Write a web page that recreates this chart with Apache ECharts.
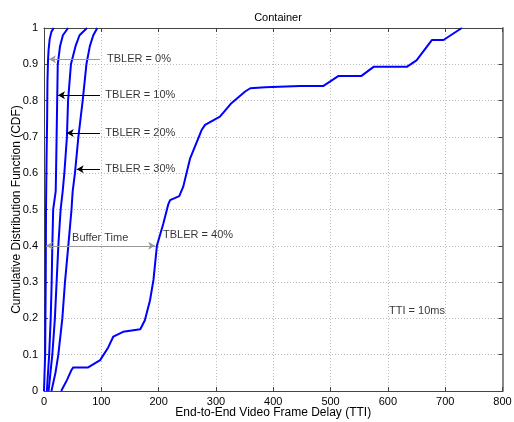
<!DOCTYPE html>
<html>
<head>
<meta charset="utf-8">
<script src="https://cdn.jsdelivr.net/npm/echarts@6/dist/echarts.min.js"></script>
<style>html,body{margin:0;padding:0;background:#fff}#c{width:514px;height:422px}</style>
</head>
<body>
<div id="c"></div>
<script>
// ---- data ----
const xTicks = [0,100,200,300,400,500,600,700,800];
const yTicks = [0,0.1,0.2,0.3,0.4,0.5,0.6,0.7,0.8,0.9,1];

const delay0 = [0, 2, 3, 3.5, 4.5, 5.5, 6, 7, 8, 10, 13, 17];
const cdf0   = [0, 0.1, 0.3, 0.5, 0.65, 0.75, 0.85, 0.91, 0.94, 0.97, 0.99, 1.0];

const delay10 = [5, 9, 11.7, 13.4, 14.5, 16, 20.4, 21, 22, 23, 24, 28, 33, 42];
const cdf10   = [0, 0.1, 0.2, 0.3, 0.4, 0.5, 0.55, 0.6, 0.7, 0.8, 0.9, 0.95, 0.98, 1.0];

const delay20 = [8, 14.5, 19, 22, 25, 29, 32.6, 35.5, 40, 42, 47, 55, 62, 75];
const cdf20   = [0, 0.1, 0.2, 0.3, 0.4, 0.5, 0.55, 0.6, 0.7, 0.8, 0.9, 0.95, 0.98, 1.0];

const delay30 = [13, 20, 25, 32, 36.6, 42.4, 48, 50, 54, 60, 67.5, 74, 80, 86, 93];
const cdf30   = [0, 0.05, 0.1, 0.2, 0.3, 0.4, 0.5, 0.55, 0.6, 0.7, 0.8, 0.9, 0.95, 0.98, 1.0];

const delay40 = [30, 40, 48, 51, 77, 98, 112, 121, 138, 168, 176, 185, 191, 197, 208, 217, 220, 236, 243, 255, 275, 281, 307, 327, 351, 360, 386, 389, 447, 487, 514, 554, 575, 633, 650, 677, 697, 729];
const cdf40   = [0, 0.03, 0.058, 0.065, 0.065, 0.085, 0.12, 0.15, 0.163, 0.17, 0.195, 0.25, 0.306, 0.4, 0.46, 0.515, 0.526, 0.537, 0.563, 0.641, 0.719, 0.733, 0.756, 0.793, 0.825, 0.834, 0.837, 0.84, 0.84, 0.84, 0.868, 0.868, 0.893, 0.893, 0.911, 0.967, 0.967, 1.0];

const seriesNames = ['TBLER = 0%','TBLER = 10%','TBLER = 20%','TBLER = 30%','TBLER = 40%'];

// annotation arrows: [fromX, toX, y]
const arrowFromX = [97.7, 97.7, 97.7, 97.7];
const arrowToX   = [8.7, 24.4, 39.6, 57];
const arrowY     = [0.914, 0.815, 0.711, 0.611];
const bufferArrow = [3.5, 194, 0.4];

const labelTexts = ['TBLER = 0%','TBLER = 10%','TBLER = 20%','TBLER = 30%','Buffer Time','TBLER = 40%','TTI = 10ms'];
const labelX = [110, 107, 107, 107, 49, 207.7, 602];
const labelY = [0.914, 0.815, 0.711, 0.611, 0.421, 0.43, 0.22];

// ---- build ----
const zip = (a,b) => a.map((v,i)=>[v,b[i]]);
const curves = [[delay0,cdf0],[delay10,cdf10],[delay20,cdf20],[delay30,cdf30],[delay40,cdf40]];
const FONT = 'Liberation Sans, Arial, sans-serif';

const series = curves.map((c,i)=>({
  name: seriesNames[i], type:'line', data: zip(c[0],c[1]),
  showSymbol:false, smooth:false, lineStyle:{color:'#0000ff', width:2}, itemStyle:{color:'#0000ff'},
  z: 3, silent:true
}));

const arrowLines = arrowFromX.map((fx,i)=>[
  {coord:[fx, arrowY[i]], lineStyle:{color: i===0 ? '#999' : '#000', width:1, type:'solid'}},
  {coord:[arrowToX[i], arrowY[i]]}
]);
arrowLines.push([
  {coord:[bufferArrow[0], bufferArrow[2]], symbol:'arrow', lineStyle:{color:'#999', width:1, type:'solid'}},
  {coord:[bufferArrow[1], bufferArrow[2]], symbol:'arrow'}
]);

series.push({
  type:'scatter', data: labelX.map((x,i)=>({value:[x,labelY[i]], label:{formatter: labelTexts[i]}})),
  symbolSize:0, silent:true, z:5,
  label:{show:true, position:'right', distance:0, color:'#000', fontSize:11, fontFamily:FONT},
  markLine:{
    silent:true, symbol:['none','arrow'], symbolSize:[6,7], animation:false,
    label:{show:false}, data: arrowLines
  }
});

const axisStyle = {lineStyle:{color:'#444', width:1}};
const chart = echarts.init(document.getElementById('c'), null, {renderer:'canvas'});
chart.setOption({
  animation:false,
  backgroundColor:'#fff',
  title:{text:'Container', left:273, top:7, textAlign:'center',
    textStyle:{fontSize:11, fontWeight:'normal', color:'#000', fontFamily:FONT}},
  grid:{left:44, right:11.5, top:28, bottom:31, containLabel:false, outerBoundsMode:'none'},
  xAxis:[{
    type:'value', min:0, max:800, interval:100,
    name:'End-to-End Video Frame Delay (TTI)', nameLocation:'middle', nameGap:16, nameMoveOverlap:false,
    nameTextStyle:{fontSize:12, color:'#000', fontFamily:FONT},
    axisLine:{show:true, onZero:false, ...axisStyle},
    axisTick:{show:true, inside:true, length:4, lineStyle:{color:'#444'}},
    axisLabel:{fontSize:11, color:'#000', fontFamily:FONT, margin:5},
    splitLine:{show:true, lineStyle:{color:'#bbb', type:[1,2], width:1}}
  },{
    type:'value', min:0, max:800, interval:100, position:'top',
    axisLine:{show:true, onZero:false, ...axisStyle},
    axisTick:{show:true, inside:true, length:4, lineStyle:{color:'#444'}},
    axisLabel:{show:false}, splitLine:{show:false}
  }],
  yAxis:[{
    type:'value', min:0, max:1, interval:0.1,
    name:'Cumulative Distribution Function (CDF)', nameLocation:'middle', nameGap:21, nameMoveOverlap:false,
    nameTextStyle:{fontSize:12, color:'#000', fontFamily:FONT},
    axisLine:{show:true, onZero:false, ...axisStyle},
    axisTick:{show:true, inside:true, length:4, lineStyle:{color:'#444'}},
    axisLabel:{fontSize:11, color:'#000', fontFamily:FONT, margin:6},
    splitLine:{show:true, lineStyle:{color:'#bbb', type:[1,2], width:1}}
  },{
    type:'value', min:0, max:1, interval:0.1, position:'right',
    axisLine:{show:true, onZero:false, lineStyle:{color:'#888', width:2}},
    axisTick:{show:true, inside:true, length:4, lineStyle:{color:'#444'}},
    axisLabel:{show:false}, splitLine:{show:false}
  }],
  series: series
});
</script>
</body>
</html>
